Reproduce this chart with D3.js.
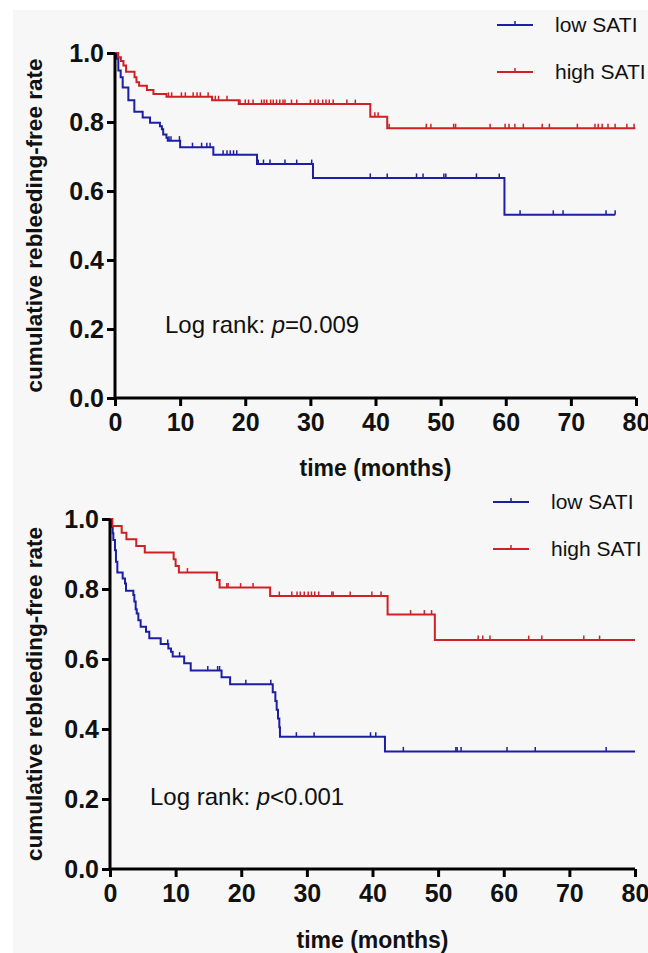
<!DOCTYPE html>
<html>
<head>
<meta charset="utf-8">
<script src="https://cdn.jsdelivr.net/npm/d3@7"></script>
<style>
  body { margin: 0; background: #fff; }
  svg { display: block; font-family: "Liberation Sans", Arial, sans-serif; }
</style>
</head>
<body>
<div id="chart"></div>
<script>
// tick values
const monthTicks = [0, 10, 20, 30, 40, 50, 60, 70, 80];
const rateTicks = [0, 0.2, 0.4, 0.6, 0.8, 1.0];
const groups = ["low SATI", "high SATI"];
const pText = ["p=0.009", "p<0.001"];

// top panel, low SATI (step times / survival after step)
const topLowTime = [0, 0.26, 0.51, 0.87, 1.18, 2.05, 2.97, 4.25, 5.38, 6.9, 7.2, 7.4, 7.9, 8.1, 10.0, 15.1, 21.8, 30.4, 59.8];
const topLowSurv = [1, 0.983, 0.949, 0.930, 0.900, 0.863, 0.830, 0.813, 0.798, 0.788, 0.779, 0.764, 0.754, 0.746, 0.727, 0.705, 0.678, 0.638, 0.531];
const topLowCens = [8.3, 8.6, 9.9, 11.9, 13.3, 14.1, 14.6, 16.6, 17.2, 17.7, 18.2, 18.7, 22.0, 22.8, 23.8, 26.1, 27.9, 30.2,
  39.2, 41.8, 46.3, 47.3, 50.5, 50.8, 55.5, 59.0, 62.2, 67.3, 68.8, 75.4, 76.8];
const topLowEnd = 76.8;

// top panel, high SATI
const topHighTime = [0, 0.5, 0.9, 1.3, 1.7, 3.0, 3.3, 3.7, 4.9, 5.9, 7.9, 14.9, 19.0, 39.2, 41.8];
const topHighSurv = [1, 0.988, 0.977, 0.964, 0.946, 0.930, 0.915, 0.905, 0.893, 0.881, 0.873, 0.863, 0.852, 0.815, 0.782];
const topHighCens = [8.2, 8.7, 10.2, 10.8, 12.0, 12.6, 13.1, 14.3, 15.4, 15.9, 17.2,
  19.2, 20.0, 20.5, 21.2, 22.5, 22.9, 23.3, 23.9, 24.3, 24.8, 25.3, 25.8, 26.1, 27.1, 27.9, 30.0, 30.7, 31.2, 31.9, 32.4, 32.9, 33.5, 35.6, 36.9,
  39.9, 40.4, 42.1, 47.8, 48.5, 52.0, 52.3, 57.6, 59.9, 60.5, 61.4, 62.7, 65.6, 66.7, 71.0, 73.7, 74.2, 74.8, 75.7, 76.8, 78.6, 79.7];
const topHighEnd = 79.9;

// bottom panel, low SATI
const botLowTime = [0, 0.25, 0.41, 0.51, 0.76, 0.91, 1.12, 1.93, 2.29, 2.44, 3.56, 3.71, 3.91, 4.07, 4.32, 4.67, 5.49, 5.99, 7.72, 8.89, 9.3, 9.55,
  11.3, 12.3, 17.0, 18.3, 24.8, 25.2, 25.4, 25.6, 25.8, 25.9, 41.9];
const botLowSurv = [1, 0.978, 0.959, 0.940, 0.911, 0.878, 0.847, 0.830, 0.816, 0.795, 0.783, 0.764, 0.742, 0.730, 0.711, 0.692, 0.678, 0.659, 0.643, 0.630, 0.621, 0.607,
  0.588, 0.567, 0.548, 0.528, 0.505, 0.480, 0.455, 0.430, 0.405, 0.378, 0.336];
const botLowCens = [8.8, 10.6, 14.9, 16.4, 16.7, 20.7, 24.5, 28.4, 31.1, 39.7, 40.5, 44.7, 52.7, 52.9, 53.5, 60.5, 64.8, 75.6];
const botLowEnd = 80;

// bottom panel, high SATI
const botHighTime = [0, 0.36, 1.78, 2.5, 4.0, 5.3, 9.7, 10.0, 10.5, 16.3, 16.7, 24.4, 42.3, 49.5];
const botHighSurv = [1, 0.980, 0.961, 0.942, 0.923, 0.904, 0.885, 0.866, 0.847, 0.826, 0.804, 0.780, 0.727, 0.654];
const botHighCens = [11.8, 17.8, 18.0, 19.9, 21.8, 25.8, 27.7, 28.5, 29.0, 29.6, 30.2, 30.7, 31.2, 31.8, 33.8, 34.0, 36.6, 39.9, 41.3,
  45.8, 47.9, 49.0, 56.1, 56.8, 57.9, 63.8, 65.8, 72.2, 74.6];
const botHighEnd = 80;

const blue = "#1c1fa3", red = "#cf2026";

const W = 648, H = 953;
const svg = d3.select("#chart").append("svg").attr("width", W).attr("height", H);
svg.append("rect").attr("x", 13).attr("y", 10).attr("width", W - 13).attr("height", H - 10).attr("fill", "#f7f7f7");

const panels = [
  { x0: 115, x1: 636, y0: 398, y1: 53, titleY: 476, yTitleX: 42, legY: 25, legX: 497, pX: 165, pY: 325, p: pText[0],
    curves: [
      { t: topLowTime, s: topLowSurv, c: topLowCens, end: topLowEnd, color: blue },
      { t: topHighTime, s: topHighSurv, c: topHighCens, end: topHighEnd, color: red }] },
  { x0: 110, x1: 635, y0: 869, y1: 519, titleY: 948, yTitleX: 42, legY: 502, legX: 493, pX: 150, pY: 797, p: pText[1],
    curves: [
      { t: botLowTime, s: botLowSurv, c: botLowCens, end: botLowEnd, color: blue },
      { t: botHighTime, s: botHighSurv, c: botHighCens, end: botHighEnd, color: red }] }
];

panels.forEach(p => {
  const x = d3.scaleLinear().domain([0, 80]).range([p.x0, p.x1]);
  const y = d3.scaleLinear().domain([0, 1]).range([p.y0, p.y1]);
  const g = svg.append("g");

  // curves
  p.curves.forEach(cv => {
    const pts = cv.t.map((t, i) => [t, cv.s[i]]);
    pts.push([cv.end, cv.s[cv.s.length - 1]]);
    const line = d3.line().x(d => x(d[0])).y(d => y(d[1])).curve(d3.curveStepAfter);
    g.append("path").attr("d", line(pts)).attr("fill", "none")
      .attr("stroke", cv.color).attr("stroke-width", 2);
    g.selectAll(null).data(cv.c).enter().append("line")
      .attr("x1", d => x(d)).attr("x2", d => x(d))
      .attr("y1", d => y(cv.s[d3.bisectRight(cv.t, d) - 1]))
      .attr("y2", d => y(cv.s[d3.bisectRight(cv.t, d) - 1]) - 4.5)
      .attr("stroke", cv.color).attr("stroke-width", 1.5);
  });

  // axes
  const yAxis = g.append("g").attr("transform", `translate(${p.x0},0)`)
    .call(d3.axisLeft(y).tickValues(rateTicks).tickFormat(d3.format(".1f")).tickSize(8).tickPadding(3));
  const xAxis = g.append("g").attr("transform", `translate(0,${p.y0})`)
    .call(d3.axisBottom(x).tickValues(monthTicks).tickSize(8).tickPadding(7));
  [yAxis, xAxis].forEach(a => {
    a.select(".domain").attr("stroke", "#000").attr("stroke-width", 3);
    a.selectAll(".tick line").attr("stroke", "#000").attr("stroke-width", 3);
    a.selectAll(".tick text").attr("fill", "#111").attr("font-size", 25).attr("font-weight", "bold")
      .attr("font-family", "'Liberation Sans', Arial, sans-serif");
  });
  xAxis.select(".domain").attr("d", `M${p.x0},0H${p.x1}`);
  yAxis.select(".domain").attr("d", `M0,${p.y0}V${p.y1}`);

  g.append("text").attr("x", (p.x0 + p.x1) / 2).attr("y", p.titleY).attr("text-anchor", "middle")
    .attr("font-size", 23).attr("font-weight", "bold").attr("fill", "#111").text("time (months)");
  g.append("text").attr("transform", `translate(${p.yTitleX},${(p.y0 + p.y1) / 2}) rotate(-90)`)
    .attr("text-anchor", "middle").attr("font-size", 22.5).attr("font-weight", "bold").attr("fill", "#111")
    .text("cumulative rebleeding-free rate");

  // log rank text
  const lr = g.append("text").attr("x", p.pX).attr("y", p.pY).attr("dy", "0.35em")
    .attr("font-size", 24).attr("fill", "#111");
  lr.append("tspan").text("Log rank: ");
  lr.append("tspan").attr("font-style", "italic").text(p.p.charAt(0));
  lr.append("tspan").text(p.p.slice(1));

  // legend
  groups.forEach((name, i) => {
    const ly = p.legY + i * 47;
    const col = i === 0 ? blue : red;
    g.append("line").attr("x1", p.legX).attr("x2", p.legX + 36).attr("y1", ly).attr("y2", ly)
      .attr("stroke", col).attr("stroke-width", 2);
    g.append("line").attr("x1", p.legX + 18).attr("x2", p.legX + 18).attr("y1", ly).attr("y2", ly - 4)
      .attr("stroke", col).attr("stroke-width", 1.5);
    g.append("text").attr("x", p.legX + 58).attr("y", ly).attr("dy", "0.35em")
      .attr("font-size", 21).attr("fill", "#111").text(name);
  });
});
</script>
</body>
</html>
